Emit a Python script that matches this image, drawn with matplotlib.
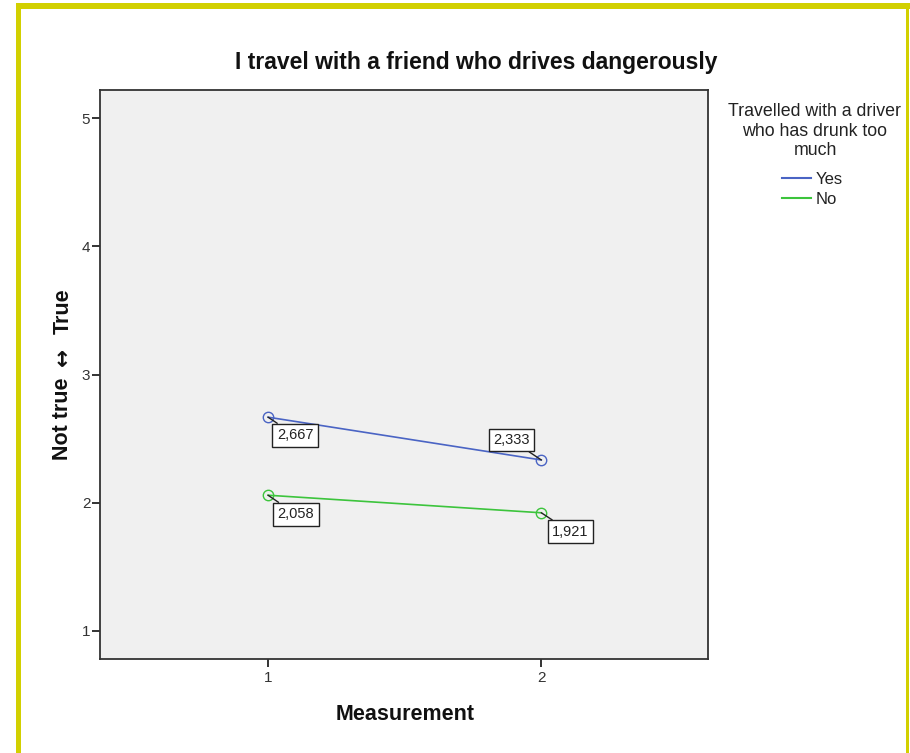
import matplotlib
matplotlib.use("Agg")
import matplotlib.pyplot as plt
from matplotlib.patches import Rectangle
from matplotlib.lines import Line2D

plt.rcParams['font.family'] = ['Liberation Sans', 'DejaVu Sans']

# Estimated marginal means
measurements = [1, 2]
groups = ["Yes", "No"]
yes_values = [2.667, 2.333]
no_values = [2.058, 1.921]
colors = {"Yes": "#4a64c4", "No": "#3cc43c"}
yticks = [1, 2, 3, 4, 5]

title = "I travel with a friend who drives dangerously"
legend_title = "Travelled with a driver\nwho has drunk too\nmuch"
xlabel = "Measurement"
ylabel_parts = ["Not true", "\u2194", "True"]

W, H = 910, 753
fig = plt.figure(figsize=(W / 100, H / 100), dpi=100)
fig.patch.set_facecolor("white")

# outer yellow frame
yellow = "#d2d000"
fig.add_artist(Rectangle((16 / W, 0), 5 / W, 1 - 3 / H, transform=fig.transFigure,
                         facecolor=yellow, edgecolor="none"))
fig.add_artist(Rectangle((16 / W, 1 - 9 / H), 1 - 16 / W, 6 / H, transform=fig.transFigure,
                         facecolor=yellow, edgecolor="none"))
fig.add_artist(Rectangle((906 / W, 0), 3 / W, 1 - 3 / H, transform=fig.transFigure,
                         facecolor=yellow, edgecolor="none"))

ax = fig.add_axes([100 / W, 1 - 659 / H, 608 / W, 569 / H])
ax.set_facecolor("#f0f0f0")
ax.set_xlim(0.385, 2.61)
ax.set_ylim(0.78, 5.22)
ax.set_xticks(measurements)
ax.set_yticks(yticks)
ax.set_xticklabels([str(m) for m in measurements])
ax.set_yticklabels([str(t) for t in yticks])
for s in ax.spines.values():
    s.set_color("#333333")
    s.set_linewidth(1.3)
ax.tick_params(axis="both", length=6, width=1.4, color="#333333",
               labelsize=11, labelcolor="#333333")
ax.tick_params(axis="y", pad=1)
ax.tick_params(axis="x", pad=3)

series = {"Yes": yes_values, "No": no_values}
for g in groups:
    ax.plot(measurements, series[g], color=colors[g], lw=1.2, marker="o",
            markersize=7.5, markerfacecolor="none", markeredgecolor=colors[g],
            markeredgewidth=1.0, zorder=3)

# value labels (offsets in pixels)
offsets = {("Yes", 0): (27, -18), ("Yes", 1): (-30, 20),
           ("No", 0): (28, -19), ("No", 1): (29, -19)}
for g in groups:
    for i, (m, v) in enumerate(zip(measurements, series[g])):
        ax.annotate(f"{v:.3f}".replace(".", ","), xy=(m, v),
                    xytext=offsets[(g, i)], textcoords="offset pixels",
                    ha="center", va="center", fontsize=10.5, color="#222222",
                    bbox=dict(boxstyle="square,pad=0.3", facecolor="white",
                              edgecolor="#222222", lw=1.0),
                    arrowprops=dict(arrowstyle="-", color="#222222", lw=1.0,
                                    shrinkA=0, shrinkB=0),
                    zorder=4)

fig.text(476 / W, 1 - 63 / H, title, ha="center", va="center",
         fontsize=16.5, fontweight="bold", color="#111111")
fig.text(405 / W, 1 - 715 / H, xlabel, ha="center", va="center",
         fontsize=15.5, fontweight="bold", color="#111111")

# vertical axis title in three pieces so the arrow is drawn full size
ylab_y = [419, 357, 311]
ylab_fam = [["Liberation Sans"], ["DejaVu Sans"], ["Liberation Sans"]]
for txt, yy, fam in zip(ylabel_parts, ylab_y, ylab_fam):
    fig.text(63 / W, 1 - yy / H, txt, ha="center", va="center", rotation=90,
             fontsize=15.5, fontweight="bold", color="#111111", family=fam)

# legend
fig.text(815 / W, 1 - 131 / H, legend_title, ha="center", va="center",
         fontsize=12.8, color="#222222", linespacing=1.2)
handles = [Line2D([], [], color=colors[g], lw=1.5) for g in groups]
fig.legend(handles, groups, loc="upper left",
           bbox_to_anchor=(782 / W, 1 - 172 / H), frameon=False,
           fontsize=12, handlelength=1.75, handletextpad=0.25,
           borderpad=0, borderaxespad=0, labelspacing=0.3,
           labelcolor="#222222")

fig.savefig("out.png", dpi=100, facecolor="white")
